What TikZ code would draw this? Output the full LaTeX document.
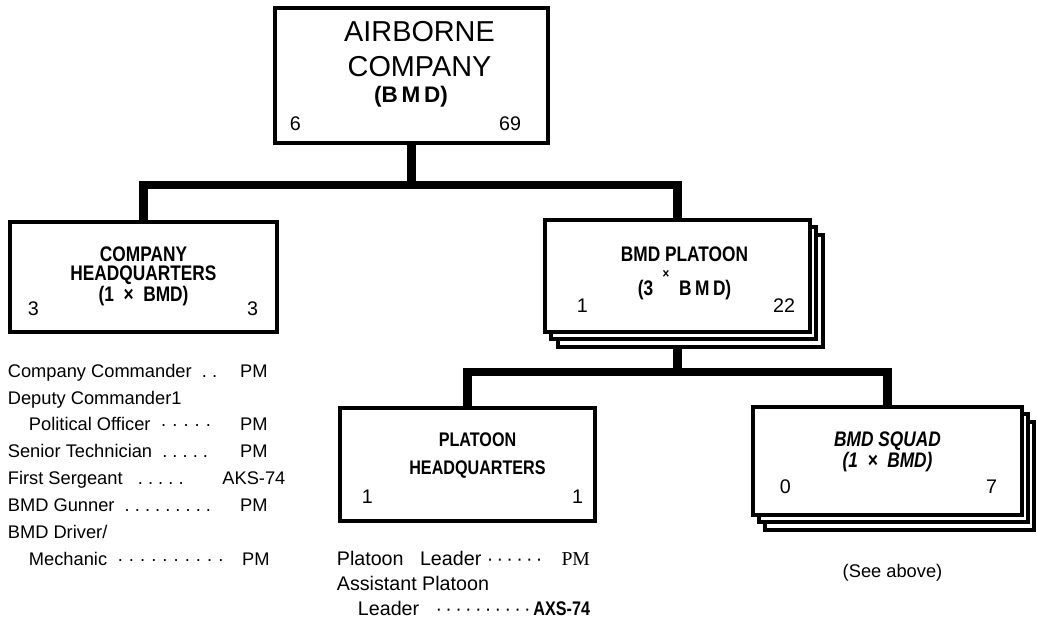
\documentclass[tikz,border=0pt]{standalone}
\usepackage{fontspec}
\setmainfont{Liberation Sans}
\newfontfamily\condfont[FakeStretch=0.82]{Liberation Sans}
\newfontfamily\serifpm{Liberation Serif}
\usetikzlibrary{positioning}

% one line of a crew list: name (with leader dots) and weapon
\newcommand{\hqrow}[2]{\makebox[197.7pt][l]{#1\hfill\makebox[45.5pt]{#2}}}
\newcommand{\plrow}[2]{\makebox[180pt][l]{#1\hfill#2}}

\begin{document}
\begin{tikzpicture}[
    x=0.025cm, y=-0.025cm,
    every node/.style={inner sep=0pt, outer sep=0pt},
    unit/.style={rectangle, draw, line width=3pt, fill=white},
    link/.style={line width=6pt},
    heading/.style={align=center, font=\condfont\bfseries\fontsize{15}{13.5}\selectfont},
    num/.style={font=\fontsize{14}{14}\selectfont},
    roster/.style={align=left, font=\fontsize{13}{19.1}\selectfont},
    roster2/.style={align=left, font=\fontsize{14}{17.8}\selectfont},
]
    \useasboundingbox (0,0) rectangle (1037,620);

    % --- boxes (absolute coordinates, top to bottom) ---
    \node[unit, minimum width=6.83cm, minimum height=3.38cm] (co) at (411.5,75.5) {};
    \node[anchor=north, align=center, font=\fontsize{20.5}{25}\selectfont] (cotitle)
        at ([shift={(8,13)}]co.north)
        {AIRBORNE\\COMPANY\\[-6pt]\hspace*{-12pt}{\bfseries\fontsize{16}{18}\selectfont (B\,M\,D)}};
    \node[num, anchor=base west] (coL) at ([shift={(15,-13)}]co.south west) {6};
    \node[num, anchor=base east] (coR) at ([shift={(-27,-13)}]co.south east) {69};

    % company headquarters
    \node[unit, minimum width=6.68cm, minimum height=2.75cm] (hq) at (143.5,277) {};
    \node[heading, anchor=north] (hqtitle) at ([shift={(0,25)}]hq.north)
        {COMPANY\\HEADQUARTERS\\(1\ \ ×\ \ BMD)};
    \node[num, anchor=base west] (hqL) at ([shift={(18,-17)}]hq.south west) {3};
    \node[num, anchor=base east] (hqR) at ([shift={(-19,-17)}]hq.south east) {3};

    % BMD platoon (stack of three)
    \node[unit, minimum width=6.63cm, minimum height=2.8cm] (plt3) at (690.5,291) {};
    \node[unit, minimum width=6.63cm, minimum height=2.8cm] (plt2) at (683.5,283) {};
    \node[unit, minimum width=6.63cm, minimum height=2.8cm] (plt) at (677.5,276) {};
    \node[heading, anchor=north, font=\condfont\bfseries\fontsize{15}{24}\selectfont] (plttitle)
        at ([shift={(7,27)}]plt.north)
        {BMD PLATOON\\(3\ \ \raisebox{12pt}{\fontsize{10}{10}\selectfont ×}\ \ B\,M\,D)};
    \node[num, anchor=base west] (pltL) at ([shift={(32,-20)}]plt.south west) {1};
    \node[num, anchor=base east] (pltR) at ([shift={(-15,-20)}]plt.south east) {22};

    % platoon headquarters
    \node[unit, minimum width=6.38cm, minimum height=2.83cm] (phq) at (467.5,464.5) {};
    \node[heading, anchor=north, font=\condfont\bfseries\fontsize{14}{20}\selectfont] (phqtitle)
        at ([shift={(10,25)}]phq.north) {PLATOON\\HEADQUARTERS};
    \node[num, anchor=base west] (phqL) at ([shift={(22,-18)}]phq.south west) {1};
    \node[num, anchor=base east] (phqR) at ([shift={(-12,-18)}]phq.south east) {1};

    % BMD squad (stack of three)
    \node[unit, minimum width=6.73cm, minimum height=2.7cm] (sq3) at (899.5,476) {};
    \node[unit, minimum width=6.73cm, minimum height=2.7cm] (sq2) at (893.5,468) {};
    \node[unit, minimum width=6.73cm, minimum height=2.7cm] (sq) at (887.5,461) {};
    \node[heading, anchor=north, font=\condfont\bfseries\itshape\fontsize{15}{14.5}\selectfont] (sqtitle)
        at ([shift={(0,25)}]sq.north) {BMD SQUAD\\(1\ \ ×\ \ BMD)};
    \node[num, anchor=base west] (sqL) at ([shift={(27,-22)}]sq.south west) {0};
    \node[num, anchor=base east] (sqR) at ([shift={(-25,-22)}]sq.south east) {7};

    % --- connectors ---
    \coordinate (bus1) at (co.south |- 0,185);
    \draw[link] (co.south) -- (bus1);
    \draw[link] (hq.north) |- (bus1) -| (plt.north);

    \coordinate (bus2) at (plt.south |- 0,372);
    \draw[link] (plt.south |- plt3.south) -- (bus2);
    \draw[link] (phq.north) |- (bus2) -| (sq.north);

    % --- crew lists ---
    \node[roster, anchor=north west] (hqcrew) at ([shift={(-2,32)}]hq.south west)
        {\hqrow{Company Commander\ \ .\ .}{PM}\\
         \hqrow{Deputy Commander1}{}\\
         \hqrow{\hspace*{15pt}Political Officer\ \ ·\ ·\ ·\ ·\ ·}{PM}\\
         \hqrow{Senior Technician\ \ .\ .\ .\ .\ .}{PM}\\
         \hqrow{First Sergeant\ \ \ .\ .\ .\ .\ .}{AKS-74}\\
         \hqrow{BMD Gunner\ \ .\ .\ .\ .\ .\ .\ .\ .\ .}{PM}\\
         \hqrow{BMD Driver/}{}\\
         \hqrow{\hspace*{15pt}Mechanic\ \ ·\ ·\ ·\ ·\ ·\ ·\ ·\ ·\ ·\ ·}{PM}};

    \node[roster2, anchor=north west] (phqcrew) at ([shift={(-3,30)}]phq.south west)
        {\plrow{Platoon\ \ \ Leader\ ·\,·\,·\,·\,·\,·}{{\serifpm PM}}\\
         \plrow{Assistant Platoon}{}\\
         \plrow{\hspace*{15pt}Leader\ \ \ ·\,·\,·\,·\,·\,·\,·\,·\,·\,·}{{\condfont\bfseries AXS-74}}};

    \node[anchor=base, font=\fontsize{13}{13}\selectfont] (sqnote) at ([shift={(5,62)}]sq.south) {(See above)};
\end{tikzpicture}
\end{document}
